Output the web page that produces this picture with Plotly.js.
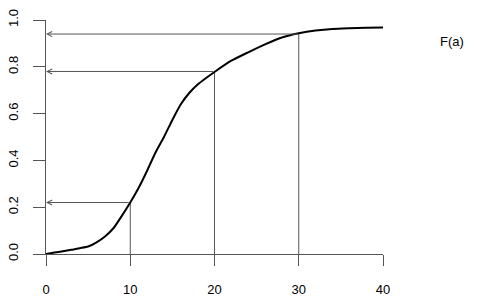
<!DOCTYPE html>
<html>
<head>
<meta charset="utf-8">
<script src="https://cdn.plot.ly/plotly-3.0.1.min.js"></script>
<style>html,body{margin:0;padding:0;background:#fff;}#chart{width:480px;height:300px;}</style>
</head>
<body>
<div id="chart"></div>
<script>
const curveX = [0,1,2,3,4,5,6,7,8,9,10,11,12,13,14,15,16,17,18,19,20,22,24,26,28,30,32,34,36,38,40];
const curveY = [0,0.006,0.012,0.018,0.025,0.032,0.05,0.075,0.11,0.163,0.22,0.283,0.356,0.434,0.50,0.573,0.64,0.688,0.724,0.752,0.778,0.826,0.862,0.896,0.925,0.943,0.955,0.962,0.965,0.967,0.968];
const markX = [10,20,30];
const markY = [0.22,0.78,0.94];
const xTicks = [0,10,20,30,40];
const yTicks = [0,0.2,0.4,0.6,0.8,1.0];
const curveLabel = 'F(a)';

const lineCol = '#555';
const traces = [];
markX.forEach((xv,i)=>{
  traces.push({x:[xv,xv], y:[0, markY[i]], mode:'lines', line:{color:lineCol, width:1}, hoverinfo:'skip', showlegend:false});
});
traces.push({x:curveX, y:curveY, mode:'lines', line:{color:'#000', width:2, shape:'spline', smoothing:0.6}, showlegend:false});

const annotations = markX.map((xv,i)=>({
  x:0, y:markY[i], xref:'x', yref:'y', ax:xv, ay:markY[i], axref:'x', ayref:'y',
  text:'', showarrow:true, arrowhead:5, arrowsize:1, arrowwidth:1, arrowcolor:lineCol
}));
annotations.push({x:1.205, y:0.91, xref:'paper', yref:'paper', text:curveLabel, showarrow:false,
  font:{family:'Liberation Sans, Arial, sans-serif', size:13, color:'#000'}, xanchor:'center', yanchor:'middle'});

const layout = {
  width:480, height:300,
  margin:{l:46, r:97, t:20, b:46},
  paper_bgcolor:'#fff', plot_bgcolor:'#fff',
  font:{family:'Liberation Sans, Arial, sans-serif', size:13, color:'#000'},
  xaxis:{range:[0,40], tickvals:xTicks, ticktext:xTicks.map(String), showgrid:false, zeroline:false,
    showline:true, linecolor:lineCol, linewidth:1, ticks:'outside', ticklen:11, tickcolor:lineCol, tickwidth:1,
    ticklabelstandoff:12, fixedrange:true},
  yaxis:{range:[0,1], tickvals:yTicks, ticktext:yTicks.map(v=>v.toFixed(1)), showgrid:false, zeroline:false,
    showline:true, linecolor:lineCol, linewidth:1, ticks:'outside', ticklen:12, tickcolor:lineCol, tickwidth:1,
    tickangle:-90, ticklabelstandoff:10, fixedrange:true},
  annotations:annotations,
  showlegend:false
};
Plotly.newPlot('chart', traces, layout, {displayModeBar:false, staticPlot:true});
</script>
</body>
</html>
